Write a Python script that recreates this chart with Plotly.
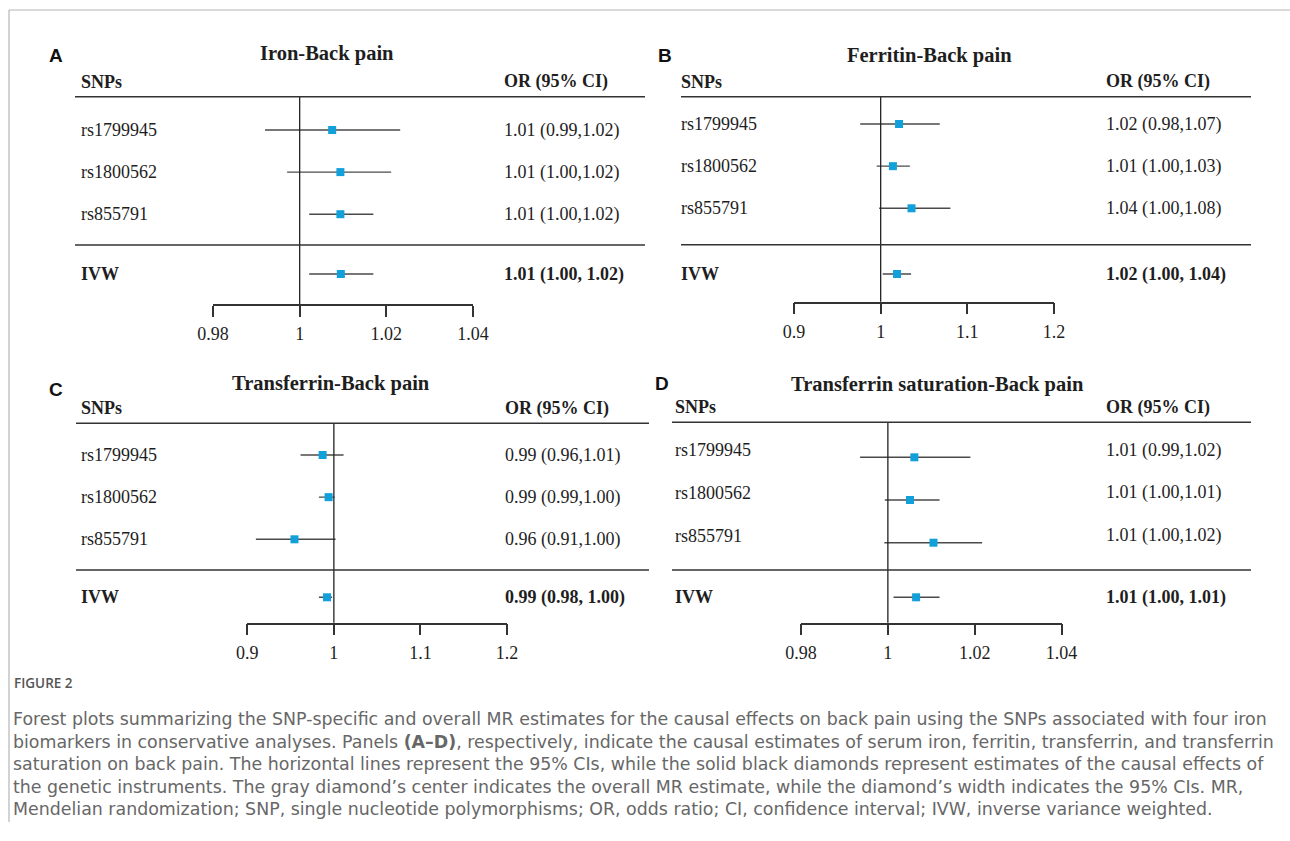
import plotly.graph_objects as go

W, H = 1290, 841

# ---------------- data ----------------
snps = ["rs1799945", "rs1800562", "rs855791"]
ivw_label = "IVW"

iron_or = [1.0075, 1.0094, 1.0094]
iron_lo = [0.9920, 0.9971, 1.0022]
iron_hi = [1.0232, 1.0211, 1.0170]
iron_ivw = [1.0095, 1.0022, 1.0170]          # estimate, lower, upper
iron_txt = ["1.01 (0.99,1.02)", "1.01 (1.00,1.02)", "1.01 (1.00,1.02)"]
iron_ivw_txt = "1.01 (1.00, 1.02)"

ferritin_or = [1.0212, 1.0141, 1.0356]
ferritin_lo = [0.9764, 0.9954, 0.9983]
ferritin_hi = [1.0682, 1.0337, 1.0805]
ferritin_ivw = [1.0189, 1.0024, 1.0351]
ferritin_txt = ["1.02 (0.98,1.07)", "1.01 (1.00,1.03)", "1.04 (1.00,1.08)"]
ferritin_ivw_txt = "1.02 (1.00, 1.04)"

transferrin_or = [0.9870, 0.9939, 0.9545]
transferrin_lo = [0.9615, 0.9827, 0.9099]
transferrin_hi = [1.0112, 1.0008, 1.0020]
transferrin_ivw = [0.9921, 0.9827, 0.9980]
transferrin_txt = ["0.99 (0.96,1.01)", "0.99 (0.99,1.00)", "0.96 (0.91,1.00)"]
transferrin_ivw_txt = "0.99 (0.98, 1.00)"

tsat_or = [1.0061, 1.0051, 1.0105]
tsat_lo = [0.9936, 0.9993, 0.9992]
tsat_hi = [1.0190, 1.0119, 1.0217]
tsat_ivw = [1.0065, 1.0013, 1.0119]
tsat_txt = ["1.01 (0.99,1.02)", "1.01 (1.00,1.01)", "1.01 (1.00,1.02)"]
tsat_ivw_txt = "1.01 (1.00, 1.01)"

ticks_fine = [0.98, 1.0, 1.02, 1.04]
ticks_fine_txt = ["0.98", "1", "1.02", "1.04"]
ticks_coarse = [0.9, 1.0, 1.1, 1.2]
ticks_coarse_txt = ["0.9", "1", "1.1", "1.2"]

titles = ["Iron-Back pain", "Ferritin-Back pain", "Transferrin-Back pain",
          "Transferrin saturation-Back pain"]
letters = ["A", "B", "C", "D"]

caption_head = "FIGURE 2"
caption_lines = [
    "Forest plots summarizing the SNP-specific and overall MR estimates for the causal effects on back pain using the SNPs associated with four iron",
    "biomarkers in conservative analyses. Panels <b>(A–D)</b>, respectively, indicate the causal estimates of serum iron, ferritin, transferrin, and transferrin",
    "saturation on back pain. The horizontal lines represent the 95% CIs, while the solid black diamonds represent estimates of the causal effects of",
    "the genetic instruments. The gray diamond’s center indicates the overall MR estimate, while the diamond’s width indicates the 95% CIs. MR,",
    "Mendelian randomization; SNP, single nucleotide polymorphisms; OR, odds ratio; CI, confidence interval; IVW, inverse variance weighted.",
]

# ---------------- layout geometry (pixels) ----------------
panels = [
    dict(est=iron_or, lo=iron_lo, hi=iron_hi, ivw=iron_ivw, txt=iron_txt, ivw_txt=iron_ivw_txt,
         ticks=ticks_fine, ticktxt=ticks_fine_txt,
         ax_l=213, ax_r=473, header=96.7, axis=304, row0=130, step=42.1, ivw_y=274,
         line_l=75, line_r=645, sep=245, snp_x=79, val_x=502, title_x=327, title_y=54,
         letter_x=56, letter_y=55, txt_shift=0),
    dict(est=ferritin_or, lo=ferritin_lo, hi=ferritin_hi, ivw=ferritin_ivw, txt=ferritin_txt,
         ivw_txt=ferritin_ivw_txt, ticks=ticks_coarse, ticktxt=ticks_coarse_txt,
         ax_l=794, ax_r=1054, header=96.7, axis=301.7, row0=124, step=42.15, ivw_y=274,
         line_l=681, line_r=1251, sep=244.7, snp_x=679, val_x=1104, title_x=930, title_y=55,
         letter_x=665, letter_y=55, txt_shift=0),
    dict(est=transferrin_or, lo=transferrin_lo, hi=transferrin_hi, ivw=transferrin_ivw,
         txt=transferrin_txt, ivw_txt=transferrin_ivw_txt, ticks=ticks_coarse,
         ticktxt=ticks_coarse_txt,
         ax_l=247.3, ax_r=507, header=423.3, axis=622.7, row0=455, step=42.15, ivw_y=597.3,
         line_l=76, line_r=649, sep=570, snp_x=79, val_x=503, title_x=331, title_y=383,
         letter_x=56, letter_y=389, txt_shift=0),
    dict(est=tsat_or, lo=tsat_lo, hi=tsat_hi, ivw=tsat_ivw, txt=tsat_txt, ivw_txt=tsat_ivw_txt,
         ticks=ticks_fine, ticktxt=ticks_fine_txt,
         ax_l=801, ax_r=1061.6, header=422.3, axis=622.7, row0=457.3, step=42.7, ivw_y=597.3,
         line_l=672, line_r=1251, sep=570, snp_x=673, val_x=1104, title_x=937, title_y=384,
         letter_x=662, letter_y=383, txt_shift=7),
]

SERIF = "Liberation Serif, Times New Roman, serif"
SANS = "Liberation Sans, Arial, sans-serif"
BLUE = "#12A0DA"
INK = "#1e1e1e"


def px(x):
    return x / W


def py(y):
    return 1 - y / H


fig = go.Figure()
shapes = []
annotations = []

for k, p in enumerate(panels):
    sfx = "" if k == 0 else str(k + 1)
    xa, ya = "x" + sfx, "y" + sfx
    n = len(snps)
    rows = list(range(n))
    ivw_row = (p["ivw_y"] - p["row0"]) / p["step"]

    # CI lines
    xs, ys = [], []
    for i in rows:
        xs += [p["lo"][i], p["hi"][i], None]
        ys += [i, i, None]
    xs += [p["ivw"][1], p["ivw"][2], None]
    ys += [ivw_row, ivw_row, None]
    fig.add_trace(go.Scatter(x=xs, y=ys, mode="lines", xaxis=xa, yaxis=ya,
                             line=dict(color="#4a4a4a", width=1.4),
                             hoverinfo="skip", cliponaxis=False, showlegend=False))
    # point estimates
    fig.add_trace(go.Scatter(x=p["est"] + [p["ivw"][0]], y=rows + [ivw_row], mode="markers",
                             xaxis=xa, yaxis=ya,
                             marker=dict(symbol="square", size=8, color=BLUE, line=dict(width=0)),
                             cliponaxis=False, showlegend=False))

    ytop = (p["header"] - p["row0"]) / p["step"]
    ybot = (p["axis"] - p["row0"]) / p["step"]
    xkey = "xaxis" + sfx
    ykey = "yaxis" + sfx
    fig.update_layout(**{
        xkey: dict(domain=[px(p["ax_l"]), px(p["ax_r"])], range=[p["ticks"][0], p["ticks"][-1]],
                   anchor=ya, showline=True, linecolor="#333", linewidth=1.5,
                   ticks="outside", ticklen=11, tickwidth=1.5, tickcolor="#333",
                   tickvals=p["ticks"], ticktext=p["ticktxt"],
                   tickfont=dict(family=SERIF, size=18, color=INK),
                   ticklabelstandoff=2, automargin=False,
                   showgrid=False, zeroline=False, fixedrange=True),
        ykey: dict(domain=[py(p["axis"]), py(p["header"])], range=[ybot, ytop],
                   anchor=xa, visible=False, showgrid=False, zeroline=False,
                   automargin=False, fixedrange=True),
    })

    # reference line at OR = 1
    shapes.append(dict(type="line", xref=xa, yref="paper", x0=1, x1=1,
                       y0=py(p["header"]), y1=py(p["axis"]),
                       line=dict(color="#222", width=1.3)))
    # header and separator rules
    for yy in (p["header"], p["sep"]):
        shapes.append(dict(type="line", xref="paper", yref="paper",
                           x0=px(p["line_l"]), x1=px(p["line_r"]), y0=py(yy), y1=py(yy),
                           line=dict(color="#333", width=1.5)))

    # text
    annotations.append(dict(text="<b>" + titles[k] + "</b>", x=px(p["title_x"]), y=py(p["title_y"]),
                            xref="paper", yref="paper", xanchor="center", yanchor="middle",
                            showarrow=False, font=dict(family=SERIF, size=20.5, color=INK)))
    annotations.append(dict(text="<b>" + letters[k] + "</b>", x=px(p["letter_x"]), y=py(p["letter_y"]),
                            xref="paper", yref="paper", xanchor="center", yanchor="middle",
                            showarrow=False, font=dict(family=SANS, size=19, color="#111")))
    hy = p["header"] - 15
    annotations.append(dict(text="<b>SNPs</b>", x=px(p["snp_x"]), y=py(hy), xref="paper",
                            yref="paper", xanchor="left", yanchor="middle", showarrow=False,
                            font=dict(family=SERIF, size=18, color=INK)))
    annotations.append(dict(text="<b>OR (95% CI)</b>", x=px(p["val_x"]), y=py(hy), xref="paper",
                            yref="paper", xanchor="left", yanchor="middle", showarrow=False,
                            font=dict(family=SERIF, size=18, color=INK)))
    for i in rows:
        annotations.append(dict(text=snps[i], x=px(p["snp_x"]), y=i, xref="paper", yref=ya,
                                xanchor="left", yanchor="middle", yshift=p["txt_shift"],
                                showarrow=False, font=dict(family=SERIF, size=18, color=INK)))
        annotations.append(dict(text=p["txt"][i], x=px(p["val_x"]), y=i, xref="paper", yref=ya,
                                xanchor="left", yanchor="middle", yshift=p["txt_shift"],
                                showarrow=False, font=dict(family=SERIF, size=18, color=INK)))
    annotations.append(dict(text="<b>" + ivw_label + "</b>", x=px(p["snp_x"]), y=ivw_row,
                            xref="paper", yref=ya, xanchor="left", yanchor="middle",
                            showarrow=False, font=dict(family=SERIF, size=18, color=INK)))
    annotations.append(dict(text="<b>" + p["ivw_txt"] + "</b>", x=px(p["val_x"]), y=ivw_row,
                            xref="paper", yref=ya, xanchor="left", yanchor="middle",
                            showarrow=False, font=dict(family=SERIF, size=18, color=INK)))

# page frame
shapes.append(dict(type="line", xref="paper", yref="paper", x0=px(9), x1=1, y0=py(10), y1=py(10),
                   line=dict(color="#b5b5b5", width=1.2)))
shapes.append(dict(type="line", xref="paper", yref="paper", x0=px(9), x1=px(9), y0=py(10), y1=py(822),
                   line=dict(color="#b5b5b5", width=1.2)))

# caption
CAP = "DejaVu Sans, Open Sans, sans-serif"
annotations.append(dict(text=caption_head, x=px(12), y=py(683), xref="paper", yref="paper",
                        xanchor="left", yanchor="middle", showarrow=False,
                        font=dict(family="Open Sans, sans-serif", size=13.5, color="#555", weight=600)))
annotations.append(dict(text="<br>".join(caption_lines), x=px(12), y=py(719 - 11.3),
                        xref="paper", yref="paper", xanchor="left", yanchor="top", align="left",
                        showarrow=False, borderpad=0,
                        font=dict(family=CAP, size=17.4, color="#676767", weight=400)))

fig.update_layout(template="none", width=W, height=H, margin=dict(l=0, r=0, t=0, b=0, pad=0),
                  paper_bgcolor="white", plot_bgcolor="white", showlegend=False,
                  shapes=shapes, annotations=annotations)

fig.write_html("out.html", config={"displayModeBar": False},
               post_script="document.body.style.margin='0px';document.body.style.overflow='hidden';")
